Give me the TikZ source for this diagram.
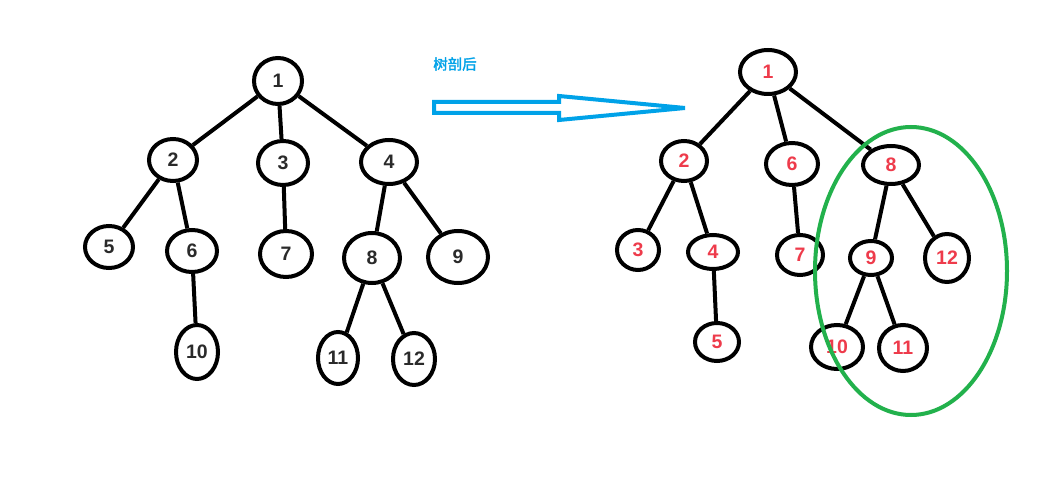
\documentclass[tikz,border=0pt]{standalone}
\usepackage{fontspec}
\setmainfont{Liberation Sans}
\newfontfamily\cjk{Noto Sans CJK SC}[FakeBold=2]
\usetikzlibrary{shapes.geometric}
\definecolor{paintblue}{HTML}{00A2E8}
\definecolor{paintgreen}{HTML}{22B14C}
\definecolor{paintred}{HTML}{EE3B4B}
\definecolor{darktext}{HTML}{2A2A2A}
\tikzset{
  nd/.style 2 args={ellipse, draw=black, line width=4pt, inner sep=0pt,
    minimum width=#1pt, minimum height=#2pt, font=\bfseries\fontsize{19.5}{19.5}\selectfont},
  lt/.style={text=darktext},
  rt/.style={text=paintred},
  edge/.style={draw=black, line width=4pt},
}
\begin{document}
\begin{tikzpicture}[x=1pt,y=-1pt]
\useasboundingbox (0,0) rectangle (1061,478);
\fill[white] (0,0) rectangle (1061,478);
% left tree
\node[nd={48}{46},lt] (a1) at (278,81) {1};
\node[nd={48}{42},lt] (a2) at (173,160) {2};
\node[nd={50}{44},lt] (a3) at (283,163) {3};
\node[nd={56}{44},lt] (a4) at (389,162) {4};
\node[nd={48}{42},lt] (a5) at (109,247) {5};
\node[nd={50}{42},lt] (a6) at (192,251) {6};
\node[nd={52}{46},lt] (a7) at (286,254) {7};
\node[nd={56}{50},lt] (a8) at (372,258) {8};
\node[nd={60}{52},lt] (a9) at (458,257) {9};
\node[nd={42}{54},lt] (a10) at (197,352) {10};
\node[nd={40}{52},lt] (a11) at (338,358) {11};
\node[nd={42}{52},lt] (a12) at (414,359) {12};
\draw[edge] (a1) -- (a2);
\draw[edge] (a1) -- (a3);
\draw[edge] (a1) -- (a4);
\draw[edge] (a2) -- (a5);
\draw[edge] (a2) -- (a6);
\draw[edge] (a3) -- (a7);
\draw[edge] (a4) -- (a8);
\draw[edge] (a4) -- (a9);
\draw[edge] (a6) -- (a10);
\draw[edge] (a8) -- (a11);
\draw[edge] (a8) -- (a12);
% label and arrow
\node[text=paintblue, font=\cjk\fontsize{14.5}{14.5}\selectfont] (lbl) at (455,64) {树剖后};
\coordinate (p1) at (434,102);
\coordinate (p2) at (559,102);
\coordinate (p3) at (559,96);
\coordinate (tip) at (685,108);
\coordinate (p4) at (559,120);
\coordinate (p5) at (559,113);
\coordinate (p6) at (434,113);
\draw[paintblue, line width=4pt, line join=miter] (p1) -- (p2) -- (p3) -- (tip) -- (p4) -- (p5) -- (p6) -- cycle;
% right tree
\node[nd={56}{44},rt] (b1) at (768,72) {1};
\node[nd={46}{40},rt] (b2) at (684,161) {2};
\node[nd={52}{42},rt] (b6) at (792,164) {6};
\node[nd={56}{38},rt] (b8) at (891,165) {8};
\node[nd={42}{40},rt] (b3) at (638,250) {3};
\node[nd={50}{34},rt] (b4) at (713,252) {4};
\node[nd={46}{40},rt] (b7) at (800,255) {7};
\node[nd={42}{34},rt] (b9) at (871,258) {9};
\node[nd={44}{48},rt] (b12) at (947,258) {12};
\node[nd={44}{38},rt] (b5) at (717,342) {5};
\node[nd={52}{44},rt] (b10) at (837,347) {10};
\node[nd={48}{46},rt] (b11) at (903,348) {11};
\draw[edge] (b1) -- (b2);
\draw[edge] (b1) -- (b6);
\draw[edge] (b1) -- (b8);
\draw[edge] (b2) -- (b3);
\draw[edge] (b2) -- (b4);
\draw[edge] (b4) -- (b5);
\draw[edge] (b6) -- (b7);
\draw[edge] (b8) -- (b9);
\draw[edge] (b8) -- (b12);
\draw[edge] (b9) -- (b10);
\draw[edge] (b9) -- (b11);
% green ellipse
\draw[paintgreen, line width=4pt] (911,271) ellipse [x radius=96, y radius=144];
\end{tikzpicture}
\end{document}
